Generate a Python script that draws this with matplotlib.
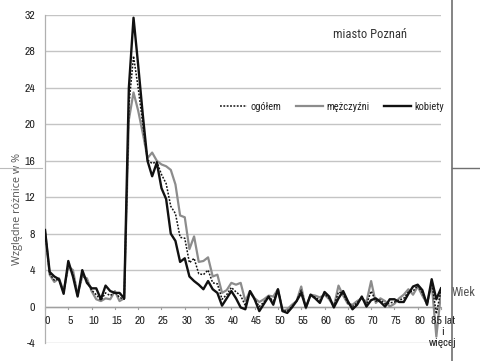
import matplotlib
matplotlib.use("Agg")
import matplotlib.pyplot as plt
from matplotlib.lines import Line2D

plt.rcParams['font.family'] = ['Archivo Narrow', 'DejaVu Sans']

ages = list(range(86))

kobiety = [8.4, 3.8, 3.3, 3.0, 1.4, 5.0, 3.3, 1.1, 4.0, 2.6,
           2.0, 2.0, 0.8, 2.3, 1.7, 1.5, 1.5, 0.9, 24.0, 31.7,
           26.5, 21.0, 16.0, 14.3, 15.8, 13.0, 11.8, 8.0, 7.2, 4.9,
           5.3, 3.3, 2.8, 2.4, 1.9, 2.8, 1.9, 1.5, 0.1, 0.9,
           1.7, 0.9, -0.1, -0.3, 1.7, 0.8, -0.5, 0.3, 1.1, 0.2,
           1.9, -0.5, -0.7, -0.1, 0.6, 1.5, -0.1, 1.3, 0.9, 0.4,
           1.6, 1.1, -0.1, 0.9, 1.7, 0.6, -0.3, 0.2, 1.1, 0.0,
           0.7, 0.9, 0.5, 0.0, 0.8, 0.8, 0.5, 0.5, 1.4, 2.2,
           2.4, 1.8, 0.2, 3.0, 0.8, 2.0]

mezczyzni = [8.4, 3.5, 2.7, 3.1, 1.7, 4.4, 4.0, 1.3, 3.3, 3.1,
             1.7, 0.8, 0.6, 0.9, 0.8, 1.7, 0.6, 0.9, 20.5, 23.5,
             21.5, 19.0, 16.3, 16.9, 16.0, 15.6, 15.4, 15.0, 13.4, 10.0,
             9.8, 6.3, 7.7, 4.9, 5.0, 5.4, 3.3, 3.5, 1.5, 1.8,
             2.6, 2.4, 2.6, 0.6, 1.7, 0.9, 0.5, 0.8, 1.2, 1.1,
             1.9, -0.5, -0.3, 0.2, 0.6, 2.2, -0.2, 1.3, 1.2, 1.0,
             1.3, 0.8, 0.0, 2.3, 1.2, 0.3, 0.2, 0.6, 0.9, 0.5,
             2.8, 0.4, 0.9, 0.6, 0.0, 0.3, 0.9, 1.3, 1.9, 1.3,
             2.2, 1.2, 0.3, 2.5, -3.3, 1.5]

ogolem = [8.4, 3.6, 2.9, 3.0, 1.5, 4.6, 3.6, 1.2, 3.6, 2.8,
          1.8, 1.3, 0.7, 1.5, 1.2, 1.6, 1.0, 0.8, 22.0, 27.5,
          24.0, 20.0, 16.1, 15.7, 15.9, 14.5, 13.5, 11.0, 10.2, 7.6,
          7.5, 4.8, 5.3, 3.6, 3.5, 4.0, 2.6, 2.5, 0.8, 1.3,
          2.1, 1.6, 1.2, 0.1, 1.6, 0.8, 0.0, 0.5, 1.1, 0.6,
          1.9, -0.5, -0.5, 0.0, 0.6, 1.8, -0.1, 1.3, 1.0, 0.7,
          1.4, 0.9, 0.0, 1.6, 1.4, 0.4, 0.0, 0.4, 1.0, 0.2,
          1.7, 0.6, 0.7, 0.3, 0.4, 0.5, 0.7, 0.9, 1.6, 1.7,
          2.3, 1.5, 0.2, 2.7, -0.8, 1.8]

xticks = list(range(0, 86, 5))
xlabels = [str(t) for t in xticks[:-1]] + ['85 lat\ni\nwięcej']
yticks = list(range(-4, 33, 4))

cond = ['Roboto Condensed', 'DejaVu Sans']

fig = plt.figure(figsize=(4.81, 3.61), dpi=100)
ax = fig.add_axes([45 / 481, 18 / 361, 396 / 481, 328 / 361])

for t in yticks:
    ax.axhline(t, color='#c4c4c4', lw=1.0, zorder=1)

ax.plot(ages, ogolem, color='#111111', lw=1.1, ls=(0, (1.2, 1.0)), zorder=3, label='ogółem')
ax.plot(ages, mezczyzni, color='#8c8c8c', lw=1.6, zorder=2, label='mężczyźni')
ax.plot(ages, kobiety, color='#111111', lw=1.7, zorder=4, label='kobiety')

ax.set_xlim(0, 85)
ax.set_ylim(-4, 32)
for s in ['top', 'right', 'bottom']:
    ax.spines[s].set_visible(False)
ax.spines['left'].set_color('#b0b0b0')
ax.spines['left'].set_linewidth(0.9)

# oś X przechodzi przez zero
ax.axhline(0, color='#a0a0a0', lw=1.0, zorder=1)
ax.set_yticks(yticks)
ax.set_yticklabels([str(t) for t in yticks], fontsize=8.5, color='#222222')
ax.tick_params(axis='y', length=0, pad=7)
ax.set_xticks([])
for t in range(0, 86, 5):
    ax.plot([t, t], [0, -0.25], color='#a0a0a0', lw=0.8, clip_on=False, zorder=1)
for t, lab in zip(xticks, xlabels):
    ax.text(t + 0.4, -1.0, lab, ha='center', va='top', fontsize=8.5,
            color='#222222', linespacing=1.15)

ax.set_ylabel('Względne różnice w %', fontsize=7.8, color='#555555',
              family=['Open Sans', 'DejaVu Sans'])
ax.yaxis.set_label_coords(-0.055, 0.41)

ax.text(0.82, 0.94, 'miasto Poznań', transform=ax.transAxes, ha='center', va='center',
        fontsize=9, color='#333333', family=cond)

leg = ax.legend(loc='center', bbox_to_anchor=(0.725, 0.72), ncol=3, frameon=False,
                prop={'family': cond, 'size': 7.5}, handlelength=2.6,
                handletextpad=0.3, columnspacing=1.4)
for txt in leg.get_texts():
    txt.set_color('#222222')

fig.text(452 / 481, 1 - 293 / 361, 'Wiek', ha='left', va='center', fontsize=9,
         color='#555555', family=cond)

# ramka strony ze skanu
fig.add_artist(Line2D([452 / 481, 452 / 481], [0, 1], color='#707070', lw=1.2))
fig.add_artist(Line2D([0, 42 / 481], [1 - 168 / 361] * 2, color='#bbbbbb', lw=0.8))
fig.add_artist(Line2D([452 / 481, 1], [1 - 168 / 361] * 2, color='#707070', lw=1.0))

fig.savefig('out.png', dpi=100)
